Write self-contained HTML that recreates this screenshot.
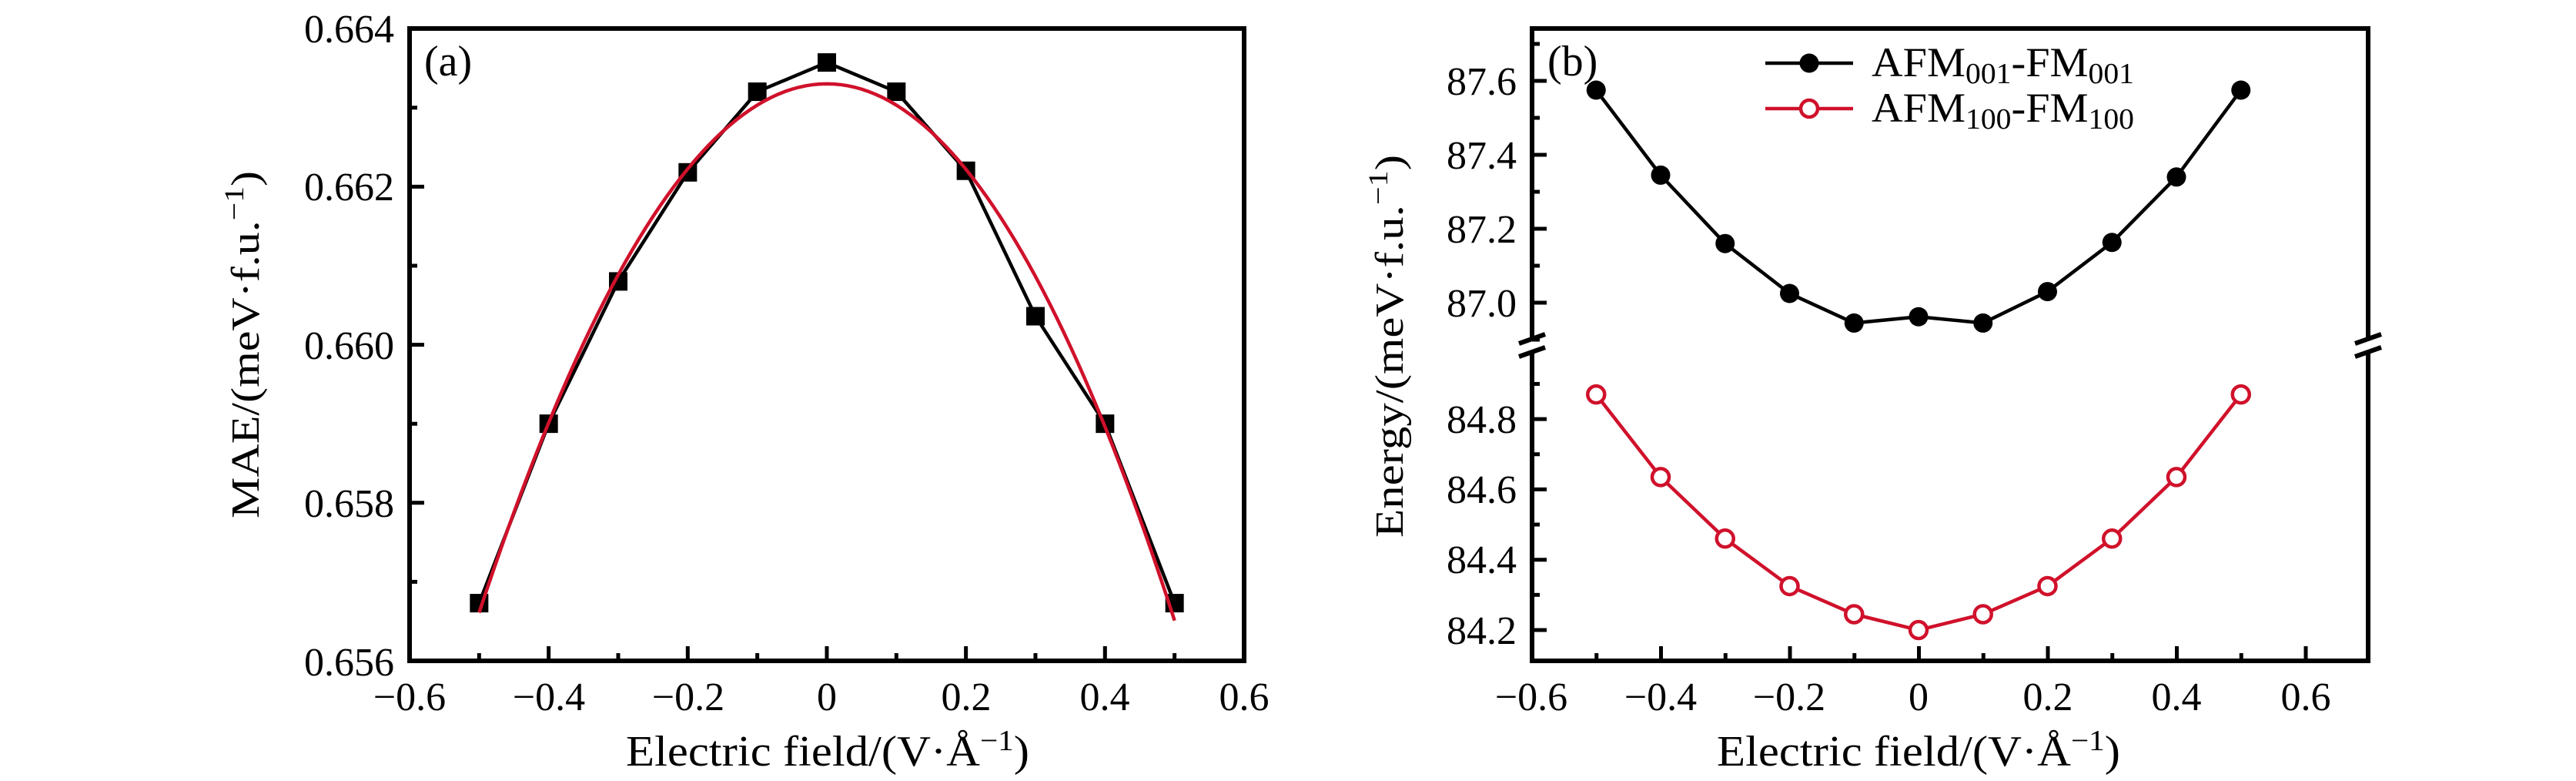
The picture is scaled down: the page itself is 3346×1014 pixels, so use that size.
<!DOCTYPE html>
<html><head><meta charset="utf-8"><style>
html,body{margin:0;padding:0;background:#fff;}
svg{display:block;}
text{font-family:"Liberation Serif","DejaVu Serif",serif;fill:#000;}
</style></head><body>
<svg id="s" width="3346" height="1014" viewBox="0 0 3346 1014" xmlns="http://www.w3.org/2000/svg">
<g id="g"></g>
<!-- panel a text -->
<g font-size="52" text-anchor="end">
<text x="512" y="55">0.664</text>
<text x="512" y="260">0.662</text>
<text x="512" y="466">0.660</text>
<text x="512" y="671">0.658</text>
<text x="512" y="877">0.656</text>
</g>
<g font-size="52" text-anchor="middle">
<text x="532" y="922">−0.6</text>
<text x="713" y="922">−0.4</text>
<text x="894" y="922">−0.2</text>
<text x="1074" y="922">0</text>
<text x="1255" y="922">0.2</text>
<text x="1435" y="922">0.4</text>
<text x="1616" y="922">0.6</text>
</g>
<text x="551" y="98" font-size="56">(a)</text>
<text x="813" y="994" font-size="56" textLength="524" lengthAdjust="spacingAndGlyphs">Electric field/(V·Å<tspan font-size="38" dy="-20">−1</tspan><tspan dy="20">)</tspan></text>
<text transform="translate(336,673) rotate(-90)" font-size="52" textLength="451" lengthAdjust="spacingAndGlyphs">MAE/(meV·f.u.<tspan font-size="36" dy="-20">−1</tspan><tspan dy="20">)</tspan></text>

<!-- panel b text -->
<g font-size="52" text-anchor="end">
<text x="1970" y="123">87.6</text>
<text x="1970" y="219">87.4</text>
<text x="1970" y="315">87.2</text>
<text x="1970" y="411">87.0</text>
<text x="1970" y="562">84.8</text>
<text x="1970" y="653">84.6</text>
<text x="1970" y="744">84.4</text>
<text x="1970" y="836">84.2</text>
</g>
<g font-size="52" text-anchor="middle">
<text x="1989" y="922">−0.6</text>
<text x="2157" y="922">−0.4</text>
<text x="2324" y="922">−0.2</text>
<text x="2492" y="922">0</text>
<text x="2660" y="922">0.2</text>
<text x="2827" y="922">0.4</text>
<text x="2995" y="922">0.6</text>
</g>
<text x="2010" y="98" font-size="56">(b)</text>
<text x="2230" y="994" font-size="56" textLength="524" lengthAdjust="spacingAndGlyphs">Electric field/(V·Å<tspan font-size="38" dy="-20">−1</tspan><tspan dy="20">)</tspan></text>
<text transform="translate(1822,698) rotate(-90)" font-size="52" textLength="497" lengthAdjust="spacingAndGlyphs">Energy/(meV·f.u.<tspan font-size="36" dy="-20">−1</tspan><tspan dy="20">)</tspan></text>
<text x="2431" y="99" font-size="54" textLength="341" lengthAdjust="spacingAndGlyphs">AFM<tspan font-size="38" dy="9">001</tspan><tspan dy="-9">-FM</tspan><tspan font-size="38" dy="9">001</tspan></text>
<text x="2431" y="158" font-size="54" textLength="341" lengthAdjust="spacingAndGlyphs">AFM<tspan font-size="38" dy="9">100</tspan><tspan dy="-9">-FM</tspan><tspan font-size="38" dy="9">100</tspan></text>
</svg>
<script>
const NS="http://www.w3.org/2000/svg",g=document.getElementById('g');
function el(t,a){const e=document.createElementNS(NS,t);for(const k in a)e.setAttribute(k,a[k]);g.appendChild(e);return e;}
const xs=[-0.5,-0.4,-0.3,-0.2,-0.1,0,0.1,0.2,0.3,0.4,0.5];
const L=532,R=1616,T=37,B=858;
const ax=x=>1074+x*903.3, ay=v=>B-(v-0.656)/0.002*205.25;
const a=[0.65673,0.6590,0.6608,0.66218,0.66320,0.66357,0.66320,0.66220,0.66036,0.6590,0.65673];
let pts=xs.map((x,i)=>ax(x)+','+ay(a[i])).join(' ');
el('polyline',{points:pts,fill:'none',stroke:'#000','stroke-width':4.5});
xs.forEach((x,i)=>el('rect',{x:ax(x)-12,y:ay(a[i])-12,width:24,height:24,fill:'#000'}));
let fp=[];for(let x=-0.5;x<=0.5001;x+=0.01){fp.push(ax(x)+','+ay(0.6633-0.02696*x*x-0.0004*x*x*x));}
el('polyline',{points:fp.join(' '),fill:'none',stroke:'#d0112b','stroke-width':4.5});
el('rect',{x:L,y:T,width:R-L,height:B-T,fill:'none',stroke:'#000','stroke-width':6});
for(let k=0;k<=12;k++){const x=L+k*90.33,len=(k%2==0)?19:10;el('line',{x1:x,y1:B,x2:x,y2:B-len,stroke:'#000','stroke-width':5});}
for(let k=0;k<=8;k++){const y=B-k*102.6,len=(k%2==0)?19:10;el('line',{x1:L,y1:y,x2:L+len,y2:y,stroke:'#000','stroke-width':5});}
const L2=1990,R2=3076;
const bx=x=>2492+x*837.5;
const byU=v=>105+(87.6-v)*480, byL=v=>818-(v-84.2)*456.5;
const bk=[87.575,87.345,87.16,87.025,86.945,86.962,86.945,87.03,87.163,87.34,87.575];
const rd=[84.87,84.635,84.46,84.325,84.245,84.20,84.245,84.325,84.46,84.635,84.87];
el('polyline',{points:xs.map((x,i)=>bx(x)+','+byU(bk[i])).join(' '),fill:'none',stroke:'#000','stroke-width':4.5});
el('polyline',{points:xs.map((x,i)=>bx(x)+','+byL(rd[i])).join(' '),fill:'none',stroke:'#d0112b','stroke-width':4.5});
xs.forEach((x,i)=>{el('circle',{cx:bx(x),cy:byU(bk[i]),r:12.5,fill:'#000'});
 el('circle',{cx:bx(x),cy:byL(rd[i]),r:11,fill:'#fff',stroke:'#d0112b','stroke-width':4.5});});
el('line',{x1:L2,y1:T,x2:R2,y2:T,stroke:'#000','stroke-width':6});
el('line',{x1:L2-3,y1:B,x2:R2+3,y2:B,stroke:'#000','stroke-width':6});
[L2,R2].forEach(x=>{el('line',{x1:x,y1:T-3,x2:x,y2:440,stroke:'#000','stroke-width':6});
 el('line',{x1:x,y1:457,x2:x,y2:B,stroke:'#000','stroke-width':6});
 el('line',{x1:x-17,y1:446,x2:x+17,y2:434,stroke:'#000','stroke-width':6});
 el('line',{x1:x-17,y1:463,x2:x+17,y2:451,stroke:'#000','stroke-width':6});});
for(let k=0;k<=12;k++){const x=L2+k*83.75,len=(k%2==0)?19:10;el('line',{x1:x,y1:B,x2:x,y2:B-len,stroke:'#000','stroke-width':5});}
for(let v=87.7;v>86.85;v-=0.1){const y=byU(v),maj=Math.abs(Math.round(v*10)%2)==0;el('line',{x1:L2,y1:y,x2:L2+(maj?19:10),y2:y,stroke:'#000','stroke-width':5});}
for(let v=84.9;v>84.15;v-=0.1){const y=byL(v),maj=Math.abs(Math.round(v*10)%2)==0;el('line',{x1:L2,y1:y,x2:L2+(maj?19:10),y2:y,stroke:'#000','stroke-width':5});}
el('line',{x1:2293,y1:82,x2:2407,y2:82,stroke:'#000','stroke-width':4.5});
el('circle',{cx:2350,cy:82,r:12.5,fill:'#000'});
el('line',{x1:2293,y1:141,x2:2407,y2:141,stroke:'#d0112b','stroke-width':4.5});
el('circle',{cx:2350,cy:141,r:11,fill:'#fff',stroke:'#d0112b','stroke-width':4.5});
</script>
</body></html>
